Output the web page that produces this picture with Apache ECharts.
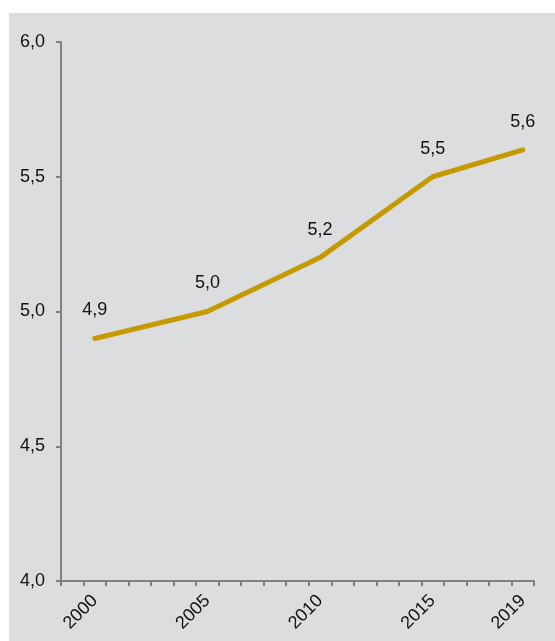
<!DOCTYPE html>
<html>
<head>
<meta charset="utf-8">
<script src="https://cdn.jsdelivr.net/npm/echarts@6/dist/echarts.min.js"></script>
<style>
    html, body { margin: 0; padding: 0; background: #fff; }
    #panel { position: absolute; left: 9px; top: 13px; width: 546px; height: 628px; background: #dcdddf; }
    #chart { width: 100%; height: 100%; }
</style>
</head>
<body>
<div id="panel"><div id="chart"></div></div>
<script>
// years 1999..2019, only some carry a value
var years = [];
for (var y = 1999; y <= 2019; y++) years.push(String(y));
var shownYears = ['2000', '2005', '2010', '2015', '2019'];
var shownValues = [4.9, 5.0, 5.2, 5.5, 5.6];

var values = years.map(function (yr) {
    var k = shownYears.indexOf(yr);
    return k >= 0 ? shownValues[k] : null;
});

var FONT = 'Liberation Sans';

function comma(v) {
    return Number(v).toFixed(1).replace('.', ',');
}

var chart = echarts.init(document.getElementById('chart'));
chart.setOption({
    animation: false,
    grid: { left: 52, top: 29, right: 21, bottom: 60 },
    xAxis: {
        type: 'category',
        data: years,
        boundaryGap: true,
        axisLine: { lineStyle: { color: '#808080', width: 2 } },
        axisTick: { show: true, interval: 0, length: 5, lineStyle: { color: '#808080', width: 2 } },
        axisLabel: {
            rotate: 45,
            margin: 17,
            fontSize: 18,
            fontFamily: FONT,
            color: '#111',
            interval: function (i, v) { return shownYears.indexOf(v) >= 0; }
        },
        splitLine: { show: false }
    },
    yAxis: {
        type: 'value',
        min: 4,
        max: 6,
        interval: 0.5,
        axisLine: { show: true, lineStyle: { color: '#808080', width: 2 } },
        axisTick: { show: true, length: 5, lineStyle: { color: '#808080', width: 2 } },
        axisLabel: { fontSize: 18, fontFamily: FONT, color: '#111', margin: 16, formatter: comma },
        splitLine: { show: false }
    },
    series: [{
        type: 'line',
        data: values,
        connectNulls: true,
        showSymbol: true,
        symbol: 'circle',
        symbolSize: 2,
        itemStyle: { color: 'transparent', borderWidth: 0 },
        lineStyle: { color: '#c59a00', width: 5, cap: 'round', join: 'round' },
        label: {
            show: true,
            position: 'top',
            distance: 18,
            fontSize: 18,
            fontFamily: FONT,
            color: '#111',
            formatter: function (p) { return p.value == null ? '' : comma(p.value); }
        }
    }]
});
</script>
</body>
</html>
